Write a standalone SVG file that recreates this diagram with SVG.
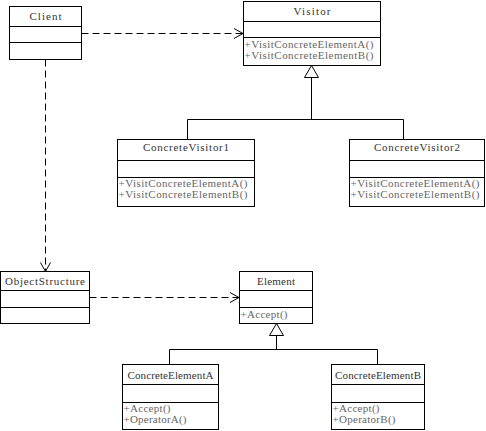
<svg xmlns="http://www.w3.org/2000/svg" width="486" height="431" viewBox="0 0 486 431">
<defs>
<style>
.box{fill:#fff;stroke:#000;stroke-width:1}
.ln{stroke:#000;stroke-width:1;fill:none}
.dash{stroke:#000;stroke-width:1;fill:none;stroke-dasharray:7,4}
.t{font-family:"Liberation Serif","DejaVu Serif",serif;font-size:11px;fill:#333;text-anchor:middle}
.m{font-family:"Liberation Serif","DejaVu Serif",serif;font-size:11px;fill:#666}
</style>
<marker id="open" markerWidth="12" markerHeight="12" refX="10" refY="6" orient="auto" markerUnits="userSpaceOnUse">
<path d="M1,1 L10,6 L1,11" fill="none" stroke="#000" stroke-width="1"/>
</marker>
</defs>
<rect width="486" height="431" fill="#fff"/>
<g id="connectors">
<path class="dash" d="M81.5,33.5 H243" marker-end="url(#open)"/>
<path class="dash" d="M45.5,59.5 V271.5" marker-end="url(#open)"/>
<path class="dash" d="M89.5,297.5 H239" marker-end="url(#open)"/>
<path class="ln" d="M311.5,77.5 V119.5 M187.5,119.5 H403.5 M187.5,119.5 V139.5 M403.5,119.5 V139.5"/>
<path class="box" d="M311.5,65.5 L318.5,77.5 L304.5,77.5 Z"/>
<path class="ln" d="M276.5,335.5 V349.5 M169.5,349.5 H377.5 M169.5,349.5 V364.5 M377.5,349.5 V364.5"/>
<path class="box" d="M276.5,323.5 L283.5,335.5 L269.5,335.5 Z"/>
</g>
<g id="client">
<rect class="box" x="9.5" y="6.5" width="72" height="53"/>
<path class="ln" d="M9.5,26.5 H81.5 M9.5,42.5 H81.5"/>
<text class="t" x="45.5" y="20" textLength="32" lengthAdjust="spacing">Client</text>
</g>
<g id="visitor">
<rect class="box" x="243.5" y="1.5" width="137" height="64"/>
<path class="ln" d="M243.5,21.5 H380.5 M243.5,37.5 H380.5"/>
<text class="t" x="312" y="15" textLength="37" lengthAdjust="spacing">Visitor</text>
<text class="m" x="244.5" y="48" textLength="129" lengthAdjust="spacing">+VisitConcreteElementA()</text>
<text class="m" x="244.5" y="59" textLength="129" lengthAdjust="spacing">+VisitConcreteElementB()</text>
</g>
<g id="concreteVisitor1">
<rect class="box" x="117.5" y="139.5" width="137" height="67"/>
<path class="ln" d="M117.5,160.5 H254.5 M117.5,177.5 H254.5"/>
<text class="t" x="186" y="151" textLength="86" lengthAdjust="spacing">ConcreteVisitor1</text>
<text class="m" x="118.5" y="187" textLength="129" lengthAdjust="spacing">+VisitConcreteElementA()</text>
<text class="m" x="118.5" y="198" textLength="129" lengthAdjust="spacing">+VisitConcreteElementB()</text>
</g>
<g id="concreteVisitor2">
<rect class="box" x="349.5" y="139.5" width="135" height="67"/>
<path class="ln" d="M349.5,160.5 H484.5 M349.5,177.5 H484.5"/>
<text class="t" x="417" y="151" textLength="86" lengthAdjust="spacing">ConcreteVisitor2</text>
<text class="m" x="350.5" y="187" textLength="129" lengthAdjust="spacing">+VisitConcreteElementA()</text>
<text class="m" x="350.5" y="198" textLength="129" lengthAdjust="spacing">+VisitConcreteElementB()</text>
</g>
<g id="objectStructure">
<rect class="box" x="0.5" y="271.5" width="89" height="52"/>
<path class="ln" d="M0.5,290.5 H89.5 M0.5,307.5 H89.5"/>
<text class="t" x="45" y="285" textLength="80" lengthAdjust="spacing">ObjectStructure</text>
</g>
<g id="element">
<rect class="box" x="239.5" y="271.5" width="73" height="52"/>
<path class="ln" d="M239.5,290.5 H312.5 M239.5,307.5 H312.5"/>
<text class="t" x="276" y="285" textLength="38" lengthAdjust="spacing">Element</text>
<text class="m" x="240.5" y="317.5" textLength="47" lengthAdjust="spacing">+Accept()</text>
</g>
<g id="concreteElementA">
<rect class="box" x="122.5" y="364.5" width="96" height="65"/>
<path class="ln" d="M122.5,384.5 H218.5 M122.5,402.5 H218.5"/>
<text class="t" x="170.5" y="379" textLength="86" lengthAdjust="spacing">ConcreteElementA</text>
<text class="m" x="123.5" y="412" textLength="47" lengthAdjust="spacing">+Accept()</text>
<text class="m" x="123.5" y="423" textLength="63" lengthAdjust="spacing">+OperatorA()</text>
</g>
<g id="concreteElementB">
<rect class="box" x="331.5" y="364.5" width="93" height="65"/>
<path class="ln" d="M331.5,384.5 H424.5 M331.5,402.5 H424.5"/>
<text class="t" x="378" y="379" textLength="86" lengthAdjust="spacing">ConcreteElementB</text>
<text class="m" x="332.5" y="412" textLength="47" lengthAdjust="spacing">+Accept()</text>
<text class="m" x="332.5" y="423" textLength="63" lengthAdjust="spacing">+OperatorB()</text>
</g>
</svg>
